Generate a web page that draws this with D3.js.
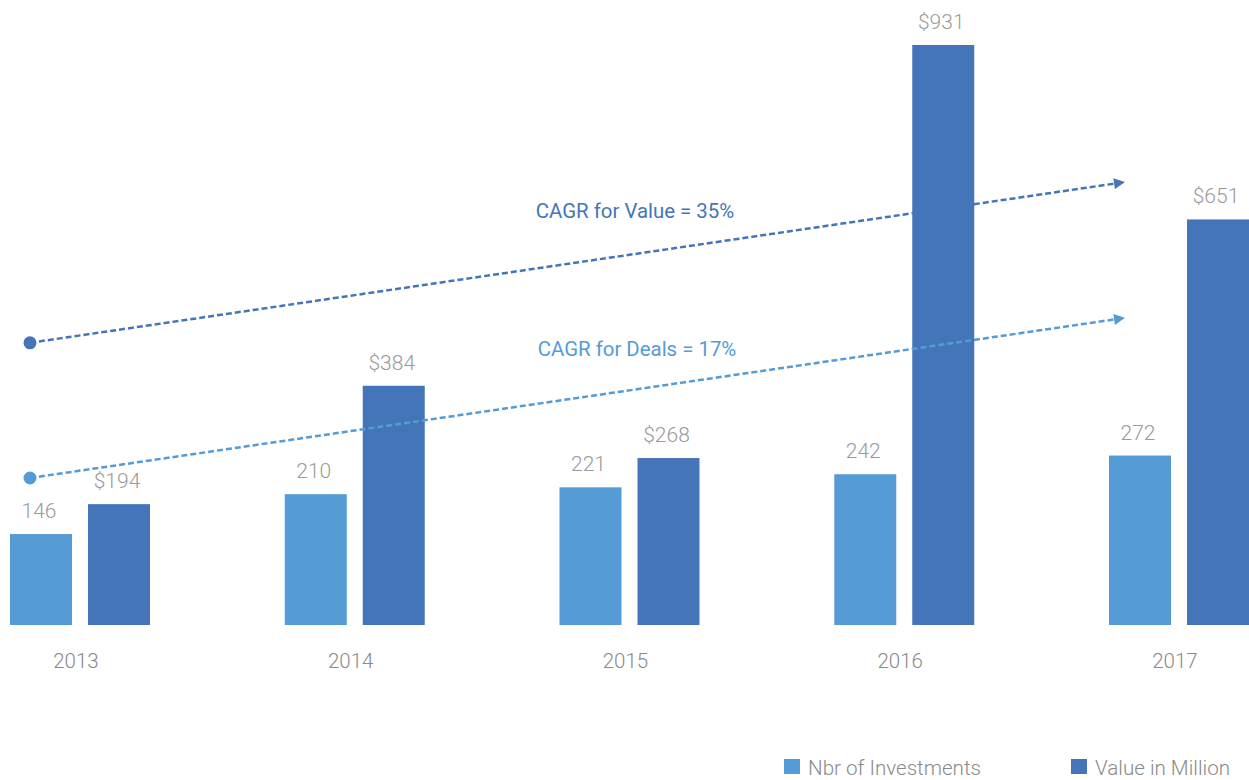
<!DOCTYPE html>
<html>
<head>
<meta charset="utf-8">
<script src="https://cdn.jsdelivr.net/npm/d3@7"></script>
<style>
  html, body { margin: 0; padding: 0; background: #fff; overflow: hidden; }
  svg { display: block; font-family: Roboto, "Open Sans", sans-serif; }
</style>
</head>
<body>
<svg id="chart" width="1249" height="780"></svg>
<script>
// ---- data ----
const years = ["2013", "2014", "2015", "2016", "2017"];
const investments = [146, 210, 221, 242, 272];
const valueMillion = [194, 384, 268, 931, 651];
const seriesNames = ["Nbr of Investments", "Value in Million"];
const seriesColors = ["#559bd5", "#4575b9"];
// CAGR trend annotations: start/end levels in chart value units
const cagrLabels = ["CAGR for Value = 35%", "CAGR for Deals = 17%"];
const cagrStart = [453, 236];
const cagrEnd = [711, 493];

// ---- layout ----
const W = 1249, H = 780;
const baseY = 625, topY = 45;
const svg = d3.select("#chart");

const x = d3.scaleBand().domain(years).range([10, 1249]).paddingInner(0.4905).paddingOuter(0);
const xInner = d3.scaleBand().domain([0, 1]).range([0, x.bandwidth()]).paddingInner(0.205).paddingOuter(0);
const y = d3.scaleLinear().domain([0, 931]).range([baseY, topY]);

const rows = years.map((yr, i) => ({ yr, vals: [investments[i], valueMillion[i]] }));

const g = svg.append("g");
const groups = g.selectAll("g.grp").data(rows).join("g")
  .attr("transform", d => `translate(${x(d.yr)},0)`);

groups.selectAll("rect").data(d => d.vals.map((v, k) => ({ v, k }))).join("rect")
  .attr("x", d => xInner(d.k))
  .attr("width", xInner.bandwidth())
  .attr("y", d => y(d.v))
  .attr("height", d => baseY - y(d.v))
  .attr("fill", d => seriesColors[d.k]);

groups.selectAll("text.val").data(d => d.vals.map((v, k) => ({ v, k }))).join("text")
  .attr("class", "val")
  .attr("x", d => xInner(d.k) + xInner.bandwidth() / 2 - 2)
  .attr("y", d => y(d.v) - 16)
  .attr("text-anchor", "middle")
  .attr("font-size", 21)
  .attr("font-weight", 300)
  .attr("fill", "#9a9a9a")
  .text(d => d.k === 1 ? "$" + d.v : d.v);

// year axis labels
g.selectAll("text.yr").data(years).join("text")
  .attr("class", "yr")
  .attr("x", d => x(d) + x.bandwidth() / 2 - 4)
  .attr("y", 668)
  .attr("text-anchor", "middle")
  .attr("font-size", 20.5)
  .attr("font-weight", 300)
  .attr("fill", "#8a8a8a")
  .text(d => d);

// CAGR arrows
const defs = svg.append("defs");
const trendColors = [seriesColors[1], seriesColors[0]];
trendColors.forEach((c, i) => {
  defs.append("marker")
    .attr("id", "arr" + i)
    .attr("viewBox", "0 0 10 10")
    .attr("refX", 10).attr("refY", 5)
    .attr("markerUnits", "userSpaceOnUse")
    .attr("markerWidth", 14).attr("markerHeight", 11)
    .attr("orient", "auto")
    .append("path").attr("d", "M0,0 L10,5 L0,10 Z").attr("fill", c);
});

const x0 = x(years[0]) + 20;
const x1 = x(years[years.length - 1]) + 16;
cagrLabels.forEach((lab, i) => {
  const ys = y(cagrStart[i]), ye = y(cagrEnd[i]);
  g.append("line")
    .attr("x1", x0).attr("y1", ys)
    .attr("x2", x1).attr("y2", ye)
    .attr("stroke", trendColors[i])
    .attr("stroke-width", 2.5)
    .attr("stroke-dasharray", "6,3")
    .attr("marker-end", `url(#arr${i})`);
  g.append("circle")
    .attr("cx", x0).attr("cy", ys).attr("r", 6.5)
    .attr("fill", trendColors[i]);
});

g.append("text")
  .attr("x", 635).attr("y", 218)
  .attr("text-anchor", "middle")
  .attr("font-size", 20.4)
  .attr("fill", trendColors[0])
  .text(cagrLabels[0]);
g.append("text")
  .attr("x", 637).attr("y", 356)
  .attr("text-anchor", "middle")
  .attr("font-size", 20.4)
  .attr("fill", trendColors[1])
  .text(cagrLabels[1]);

// legend
const legX = [784, 1071];
seriesNames.forEach((n, i) => {
  const lg = svg.append("g").attr("transform", `translate(${legX[i]},759)`);
  lg.append("rect").attr("width", 16).attr("height", 15).attr("fill", seriesColors[i]);
  lg.append("text").attr("x", 24).attr("y", 16)
    .attr("font-size", 20.6).attr("font-weight", 300)
    .attr("fill", "#8a8a8a").text(n);
});
</script>
</body>
</html>
